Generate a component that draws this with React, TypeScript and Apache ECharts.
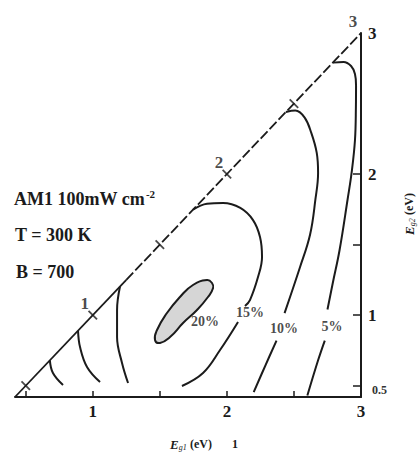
import React, { useEffect, useRef } from "react";
import * as echarts from "echarts";

// Band-gap axes (eV): top-cell gap along x, bottom-cell gap along y
const AXIS_MIN = 0.42;
const AXIS_MAX = 3;
const axisLabelValues = [1, 2, 3];
const rightLabelValues = [0.5, 1, 2, 3];
const bottomTickValues = [0.5, 1, 1.5, 2, 2.5, 3];
const rightTickValues = [0.5, 1, 1.5, 2];
const diagonalTickValues = [0.5, 1, 1.5, 2, 2.5];
const diagonalLabelValues = [1, 2, 3];

// Iso-efficiency contours [Eg1, Eg2]
const levels = ["5%", "10%", "15%", "20%"];
const eff5Upper = [[2.79, 2.79], [2.87, 2.795], [2.926, 2.766], [2.955, 2.71], [2.963, 2.63], [2.962, 2.475], [2.955, 2.24], [2.93, 2.01], [2.9, 1.82], [2.84, 1.46], [2.79, 1.23], [2.75, 1.04]];
const eff5Lower = [[2.73, 0.82], [2.68, 0.68], [2.6, 0.43]];
const eff5Left = [[0.68, 0.68], [0.703, 0.59], [0.778, 0.505]];
const eff10Upper = [[2.44, 2.44], [2.51, 2.45], [2.58, 2.4], [2.63, 2.29], [2.67, 2.15], [2.68, 2.01], [2.66, 1.82], [2.62, 1.57], [2.545, 1.34], [2.43, 1.015]];
const eff10Lower = [[2.37, 0.82], [2.29, 0.65], [2.2, 0.455]];
const eff10Left = [[0.89, 0.89], [0.905, 0.774], [0.957, 0.633], [1.054, 0.526]];
const eff15Upper = [[1.747, 1.747], [1.852, 1.79], [1.971, 1.795], [2.1, 1.76], [2.195, 1.674], [2.247, 1.554], [2.262, 1.412], [2.232, 1.27], [2.172, 1.107], [2.135, 1.065]];
const eff15Lower = [[2.083, 0.952], [1.949, 0.753], [1.822, 0.59], [1.665, 0.498]];
const eff15Left = [[1.203, 1.203], [1.181, 1.037], [1.181, 0.845], [1.218, 0.661], [1.263, 0.519]];
const eff20 = [[1.889, 1.228], [1.852, 1.249], [1.747, 1.214], [1.65, 1.129], [1.553, 1.015], [1.479, 0.895], [1.464, 0.824], [1.501, 0.803], [1.576, 0.845], [1.673, 0.944], [1.777, 1.037], [1.859, 1.129], [1.897, 1.192]];
const levelLabelPos = [[2.784, 0.923], [2.426, 0.909], [2.172, 1.022], [1.837, 0.952]];

const INK = "#1b1b1b";
const SERIF = "'Liberation Serif', 'DejaVu Serif', serif";

export default function App() {
  const ref = useRef<HTMLDivElement>(null);

  useEffect(() => {
    if (!ref.current) return;
    document.body.style.margin = "0";
    const chart = echarts.init(ref.current, undefined, { renderer: "svg" });

    const contourSegments = [eff5Upper, eff5Lower, eff5Left, eff10Upper, eff10Lower, eff10Left, eff15Upper, eff15Lower, eff15Left];
    const contourSeries = contourSegments.map((seg) => ({
      type: "line",
      data: seg,
      smooth: 0.4,
      symbol: "none",
      silent: true,
      lineStyle: { color: INK, width: 2 },
      z: 3,
    }));

    chart.setOption({
      animation: false,
      backgroundColor: "#ffffff",
      grid: { left: 15, top: 33, width: 346, height: 364, containLabel: false },
      xAxis: {
        type: "value",
        min: AXIS_MIN,
        max: AXIS_MAX,
        position: "bottom",
        splitLine: { show: false },
        axisLine: { show: true, lineStyle: { color: INK, width: 2 } },
        axisTick: { show: true, inside: true, length: 6, customValues: bottomTickValues, lineStyle: { color: INK, width: 1.5 } },
        axisLabel: { customValues: axisLabelValues, color: INK, fontFamily: SERIF, fontWeight: "bold", fontSize: 17, margin: 6 },
      },
      yAxis: {
        type: "value",
        min: AXIS_MIN,
        max: AXIS_MAX,
        position: "right",
        splitLine: { show: false },
        axisLine: { show: true, lineStyle: { color: INK, width: 2 } },
        axisTick: { show: true, inside: true, length: 8, customValues: rightTickValues, lineStyle: { color: INK, width: 1.5 } },
        axisLabel: {
          customValues: rightLabelValues,
          margin: 7,
          formatter: (v: number) => (v < 1 ? `{s|${v}}` : `{b|${v}}`),
          rich: {
            b: { color: INK, fontFamily: SERIF, fontWeight: "bold", fontSize: 17 },
            s: { color: "#333", fontFamily: SERIF, fontWeight: "bold", fontSize: 12, padding: [8, 0, 0, 4] },
          },
        },
      },
      series: [
        {
          type: "line",
          data: [[AXIS_MIN, AXIS_MIN], [1.25, 1.25]],
          symbol: "none",
          silent: true,
          lineStyle: { color: INK, width: 1.8 },
        },
        {
          type: "line",
          data: [[1.25, 1.25], [AXIS_MAX, AXIS_MAX]],
          symbol: "none",
          silent: true,
          lineStyle: { color: INK, width: 1.8, type: [10, 3] },
        },
        {
          type: "scatter",
          data: diagonalTickValues.map((v) => [v, v]),
          symbol: "rect",
          symbolSize: [1.8, 12],
          symbolRotate: 45,
          itemStyle: { color: INK },
          silent: true,
          z: 4,
        },
        {
          type: "scatter",
          data: diagonalLabelValues.map((v) => [v, v]),
          symbolSize: 0,
          silent: true,
          label: {
            show: true,
            position: "inside",
            offset: [-8, -12],
            formatter: (p: any) => String(p.value[0]),
            color: INK,
            fontFamily: SERIF,
            fontWeight: "bold",
            fontSize: 17,
          },
        },
        ...contourSeries,
        {
          type: "custom",
          data: eff20,
          encode: { x: 0, y: 1 },
          silent: true,
          z: 4,
          renderItem: (params: any, api: any) => {
            if (params.dataIndex !== 0) return null;
            const pts = eff20.map((p) => api.coord(p));
            return {
              type: "polygon",
              shape: { points: pts, smooth: 0.5 },
              style: { fill: "rgba(0,0,0,0.16)", stroke: INK, lineWidth: 2 },
            };
          },
        },
        {
          type: "scatter",
          data: levelLabelPos,
          symbolSize: 0,
          silent: true,
          z: 5,
          label: {
            show: true,
            position: "inside",
            formatter: (p: any) => levels[p.dataIndex],
            color: INK,
            fontFamily: SERIF,
            fontWeight: "bold",
            fontSize: 14,
          },
        },
      ],
      graphic: [
        {
          type: "text",
          left: 14,
          top: 188,
          style: {
            text: "{m|AM1 100mW cm}{sup|-2}",
            rich: {
              m: { fontFamily: SERIF, fontWeight: "bold", fontSize: 18, fill: INK },
              sup: { fontFamily: SERIF, fontWeight: "bold", fontSize: 11, fill: INK, padding: [0, 0, 10, 1] },
            },
          },
        },
        {
          type: "text",
          left: 15,
          top: 226,
          style: { text: "T = 300 K", fontFamily: SERIF, fontWeight: "bold", fontSize: 18, fill: INK },
        },
        {
          type: "text",
          left: 16,
          top: 263,
          style: { text: "B = 700", fontFamily: SERIF, fontWeight: "bold", fontSize: 18, fill: INK },
        },
        {
          type: "text",
          x: 170,
          y: 444,
          style: {
            text: "{e|E}{s|g1} {t|(eV)}      {t|1}",
            verticalAlign: "middle",
            rich: {
              e: { fontFamily: SERIF, fontStyle: "italic", fontWeight: "bold", fontSize: 13, fill: INK },
              s: { fontFamily: SERIF, fontStyle: "italic", fontSize: 8, fill: INK, padding: [6, 0, 0, 0] },
              t: { fontFamily: SERIF, fontWeight: "bold", fontSize: 12, fill: INK },
            },
          },
        },
        {
          type: "text",
          x: 409,
          y: 214,
          rotation: Math.PI / 2,
          style: {
            text: "{e|E}{s|g2} {t|(eV)}",
            align: "center",
            verticalAlign: "middle",
            rich: {
              e: { fontFamily: SERIF, fontStyle: "italic", fontWeight: "bold", fontSize: 13, fill: INK },
              s: { fontFamily: SERIF, fontStyle: "italic", fontSize: 8, fill: INK, padding: [6, 0, 0, 0] },
              t: { fontFamily: SERIF, fontWeight: "bold", fontSize: 12, fill: INK },
            },
          },
        },
      ],
    });

    return () => chart.dispose();
  }, []);

  return (
    <div
      ref={ref}
      style={{ position: "fixed", left: 0, top: 0, width: 418, height: 459, background: "#fff" }}
    />
  );
}
